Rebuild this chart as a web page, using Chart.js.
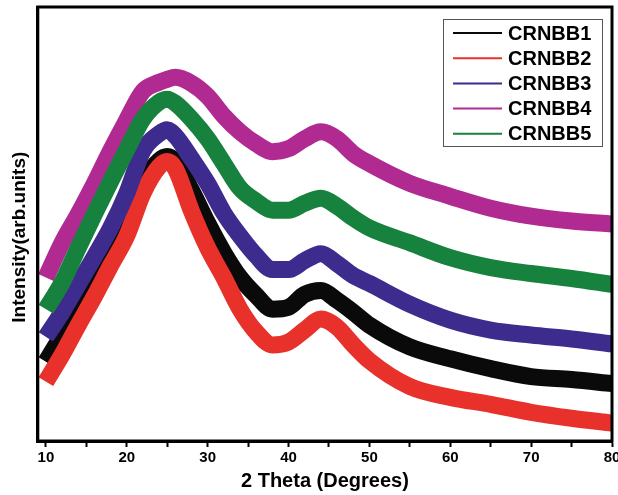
<!DOCTYPE html>
<html>
<head>
<meta charset="utf-8">
<script src="https://cdn.jsdelivr.net/npm/chart.js@4"></script>
<style>
  html, body { margin: 0; padding: 0; background: #fff; }
  #wrap { width: 618px; height: 495px; }
</style>
</head>
<body>
<div id="wrap"><canvas id="xrd"></canvas></div>
<script>
// 2 theta positions (degrees) and intensities (arb. units)
const theta = [10, 12, 14, 16, 18, 20, 22, 24, 25, 26, 28, 30, 32, 34, 36, 38, 40, 42, 44, 46, 48, 50, 55, 60, 65, 70, 75, 80]
const crnbb1 = [80, 107, 135, 163, 195, 230, 262, 283, 287, 282, 253, 220, 190, 165, 147, 133, 135, 148, 152, 142, 130, 117, 95, 83, 73, 65, 62, 58]
const crnbb2 = [60, 87, 117, 146, 177, 207, 250, 277, 282, 275, 232, 195, 165, 133, 110, 97, 100, 112, 123, 115, 97, 81, 55, 44, 37, 29, 23, 18]
const crnbb3 = [105, 130, 158, 186, 215, 250, 293, 310, 314, 308, 285, 260, 230, 207, 187, 173, 173, 182, 189, 179, 167, 159, 138, 122, 112, 107, 103, 98]
const crnbb4 = [165, 200, 229, 260, 293, 324, 353, 362, 365, 367, 361, 348, 328, 312, 300, 292, 295, 305, 312, 305, 290, 280, 260, 247, 235, 227, 222, 219]
const crnbb5 = [133, 160, 195, 229, 262, 294, 325, 342, 345, 341, 325, 305, 280, 255, 242, 233, 233, 240, 245, 237, 225, 215, 200, 185, 175, 169, 164, 158]

const seriesNames = ['CRNBB1', 'CRNBB2', 'CRNBB3', 'CRNBB4', 'CRNBB5']
const seriesColors = ['#0a0a0a', '#e8312b', '#3d2b8e', '#b02a92', '#17823e']
const xTicks = [10, 15, 20, 25, 30, 35, 40, 45, 50, 55, 60, 65, 70, 75, 80]
const xTickLabels = [10, 20, 30, 40, 50, 60, 70, 80]

const FONT = "'Liberation Sans', Arial, sans-serif"

const series = [crnbb1, crnbb2, crnbb3, crnbb4, crnbb5]

const datasets = series.map((vals, i) => ({
    label: seriesNames[i],
    data: vals.map((v, j) => ({ x: theta[j], y: v })),
    borderColor: seriesColors[i],
    backgroundColor: seriesColors[i],
    borderWidth: 17,
    pointRadius: 0,
    cubicInterpolationMode: 'monotone',
    borderJoinStyle: 'round',
    order: 5 - i
}))

// frame round the plot + boxed legend in the top right corner
const framePlugin = {
    id: 'frame',
    afterDatasetsDraw(chart) {
        const { ctx, chartArea: a } = chart
        ctx.save()
        ctx.strokeStyle = '#000'
        ctx.lineWidth = 3
        ctx.strokeRect(a.left, a.top, a.right - a.left, a.bottom - a.top)

        const bx = 443, by = 19, bw = 159, bh = 127
        ctx.fillStyle = '#fff'
        ctx.fillRect(bx, by, bw, bh)
        ctx.lineWidth = 1
        ctx.strokeStyle = '#555'
        ctx.strokeRect(bx + 0.5, by + 0.5, bw, bh)

        ctx.font = "bold 20px " + FONT
        ctx.textBaseline = 'middle'
        chart.data.datasets.forEach((ds, i) => {
            const y = 33 + i * 25.2
            ctx.strokeStyle = ds.borderColor
            ctx.lineWidth = 2
            ctx.beginPath()
            ctx.moveTo(453, y)
            ctx.lineTo(502, y)
            ctx.stroke()
            ctx.fillStyle = '#000'
            ctx.fillText(ds.label, 508, y + 1)
        })
        ctx.restore()
    }
}

new Chart(document.getElementById('xrd'), {
    type: 'line',
    data: { datasets: datasets },
    options: {
        responsive: true,
        maintainAspectRatio: false,
        animation: false,
        layout: { padding: { left: 4, right: 6, top: 7, bottom: 0 }, autoPadding: false },
        plugins: {
            legend: { display: false },
            tooltip: { enabled: false }
        },
        scales: {
            x: {
                type: 'linear',
                min: 9,
                max: 80,
                afterBuildTicks: axis => { axis.ticks = xTicks.map(v => ({ value: v })) },
                // let the "80" label run past the frame like in the original
                afterFit: axis => { axis.paddingRight = 0 },
                ticks: {
                    autoSkip: false,
                    maxRotation: 0,
                    padding: 2,
                    color: '#000',
                    font: { family: FONT, size: 15, weight: 'bold' },
                    callback: v => xTickLabels.includes(v) ? String(v) : ''
                },
                grid: { display: true, drawOnChartArea: false, drawTicks: true, tickLength: 6, tickWidth: 2, tickColor: '#000' },
                border: { display: true, color: '#000', width: 3 },
                title: {
                    display: true,
                    text: '2 Theta (Degrees)',
                    color: '#000',
                    padding: { top: 0, bottom: 2 },
                    font: { family: FONT, size: 20, weight: 'bold' }
                }
            },
            y: {
                min: 0,
                max: 438,
                ticks: { display: false },
                grid: { display: false, drawTicks: false },
                border: { display: true, color: '#000', width: 3 },
                title: {
                    display: true,
                    text: 'Intensity(arb.units)     ',
                    color: '#000',
                    padding: { top: 4, bottom: 7 },
                    font: { family: FONT, size: 19, weight: 'bold' }
                }
            }
        }
    },
    plugins: [framePlugin]
})
</script>
</body>
</html>
